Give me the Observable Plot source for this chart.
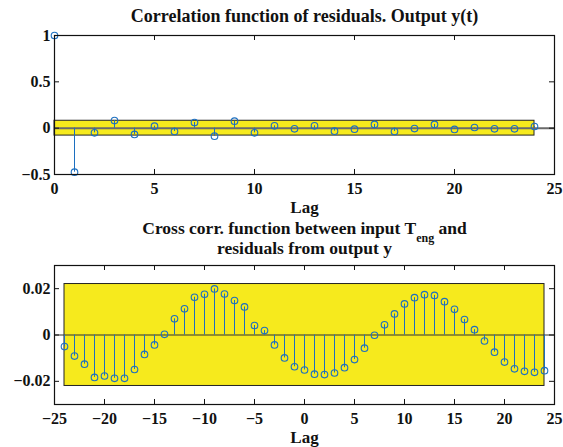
<!DOCTYPE html>
<html>
<head>
<meta charset="utf-8">
<script src="https://cdn.jsdelivr.net/npm/d3@7"></script>
<script src="https://cdn.jsdelivr.net/npm/@observablehq/plot@0.6"></script>
<style>
  html, body { margin: 0; padding: 0; background: #fff; }
  #chart { width: 563px; height: 447px; }
  #chart svg { display: block; }
</style>
</head>
<body>
<div id="chart"></div>
<script>
// Residual autocorrelation of output y(t), lags 0..24
const autoLags = [0, 1, 2, 3, 4, 5, 6, 7, 8, 9, 10, 11, 12, 13, 14, 15, 16, 17, 18, 19, 20, 21, 22, 23, 24];
const autoCorr = [1, -0.475, -0.05, 0.082, -0.068, 0.022, -0.036, 0.061, -0.086, 0.075, -0.05, 0.025, -0.007,
                  0.025, -0.032, -0.011, 0.04, -0.036, -0.004, 0.04, -0.014, 0.007, -0.007, -0.007, 0.018];
const autoBound = 0.08;              // confidence region half-width
const autoXTicks = [0, 5, 10, 15, 20, 25];
const autoYTicks = [-0.5, 0, 0.5, 1];

// Cross correlation between input T_eng and residuals, lags -24..24
const crossLags = [-24, -23, -22, -21, -20, -19, -18, -17, -16, -15, -14, -13, -12, -11, -10, -9, -8, -7, -6, -5, -4, -3, -2, -1,
                   0, 1, 2, 3, 4, 5, 6, 7, 8, 9, 10, 11, 12, 13, 14, 15, 16, 17, 18, 19, 20, 21, 22, 23, 24];
const crossCorr = [-0.0050, -0.0091, -0.0126, -0.0183, -0.0177, -0.0187, -0.0187, -0.0149, -0.0084, -0.0043, 0.0003, 0.0070,
                   0.0113, 0.0163, 0.0176, 0.0199, 0.0177, 0.0149, 0.0121, 0.0041, 0.0019, -0.0043, -0.0099, -0.0137,
                   -0.0151, -0.0169, -0.0171, -0.0164, -0.0141, -0.0106, -0.0057, -0.0001, 0.0044, 0.0091, 0.0134, 0.0161,
                   0.0174, 0.0171, 0.0144, 0.0111, 0.0067, 0.0023, -0.0026, -0.0074, -0.0117, -0.0146, -0.0157, -0.0161, -0.0154];
const crossBound = 0.022;
const crossXTicks = [-25, -20, -15, -10, -5, 0, 5, 10, 15, 20, 25];
const crossYTicks = [-0.02, 0, 0.02];

const autoTitle = "Correlation function of residuals. Output y(t)";
const crossTitle = ["Cross corr. function between input T", "eng", "and"];   // main text, subscript, tail
const crossTitle2 = "residuals from output y";
const xLabel = "Lag";

// ---- styling ----
const W = 563;
const marginLeft = 54, marginRight = 9;
const frameW = W - marginLeft - marginRight;
const tickLen = 5;
const blue = "#1c6fc0";
const yellow = "#f6ea1d";
const ink = "#111";
const serif = "'Liberation Serif', 'Times New Roman', serif";
const titleSize = 17.5, subSize = 12;
const fmt = d => String(d).replace("-", "\u2212");

function inwardTicks(xTicks, yTicks, frameH) {
  return [
    Plot.ruleX(xTicks, {x: d => d, insetTop: frameH - tickLen, stroke: ink, strokeWidth: 1}),
    Plot.ruleX(xTicks, {x: d => d, insetBottom: frameH - tickLen, stroke: ink, strokeWidth: 1}),
    Plot.ruleY(yTicks, {y: d => d, insetRight: frameW - tickLen, stroke: ink, strokeWidth: 1}),
    Plot.ruleY(yTicks, {y: d => d, insetLeft: frameW - tickLen, stroke: ink, strokeWidth: 1})
  ];
}

const baseStyle = {fontFamily: serif, fontSize: "16px", fontWeight: "bold", color: ink, background: "white", overflow: "visible"};

// ---- top panel: autocorrelation ----
const h1 = 217, mt1 = 35, mb1 = 43;
const autoData = autoLags.map((lag, i) => ({lag, r: autoCorr[i]}));
const plot1 = Plot.plot({
  width: W, height: h1, marginTop: mt1, marginBottom: mb1, marginLeft, marginRight,
  style: baseStyle,
  x: {domain: [0, 25]},
  y: {domain: [-0.5, 1]},
  marks: [
    Plot.rect([autoBound], {x1: () => autoLags[0], x2: () => autoLags[autoLags.length - 1], y1: d => -d, y2: d => d,
      fill: yellow, stroke: "#222", strokeWidth: 1}),
    Plot.ruleY([0], {stroke: "#6a6a6a", strokeWidth: 2}),
    Plot.ruleX(autoData, {x: "lag", y1: () => 0, y2: "r", stroke: blue, strokeWidth: 1}),
    Plot.dot(autoData, {x: "lag", y: "r", r: 3.3, stroke: blue, strokeWidth: 1.1, fill: "none"}),
    Plot.frame({stroke: ink, strokeWidth: 1.2}),
    ...inwardTicks(autoXTicks, autoYTicks, h1 - mt1 - mb1),
    Plot.axisX({ticks: autoXTicks, tickSize: 0, tickPadding: 8, tickFormat: fmt, label: null}),
    Plot.axisY({ticks: autoYTicks, tickSize: 0, tickPadding: 4, tickFormat: fmt, label: null}),
    Plot.text([autoTitle], {text: d => d, frameAnchor: "top", dy: -14, lineAnchor: "bottom", fontSize: 18}),
    Plot.text([xLabel], {text: d => d, frameAnchor: "bottom", dy: 38, lineAnchor: "bottom", fontSize: 17})
  ]
});

// ---- bottom panel: cross correlation ----
const h2 = 230, mt2 = 48, mb2 = 43;
const crossData = crossLags.map((lag, i) => ({lag, r: crossCorr[i]}));
const plot2 = Plot.plot({
  width: W, height: h2, marginTop: mt2, marginBottom: mb2, marginLeft, marginRight,
  style: baseStyle,
  x: {domain: [-25, 25]},
  y: {domain: [-0.03, 0.03]},
  marks: [
    Plot.rect([crossBound], {x1: () => crossLags[0], x2: () => crossLags[crossLags.length - 1], y1: d => -d, y2: d => d,
      fill: yellow, stroke: "#222", strokeWidth: 1}),
    Plot.ruleY([0], {stroke: "#333", strokeWidth: 1.2}),
    Plot.ruleX(crossData, {x: "lag", y1: () => 0, y2: "r", stroke: blue, strokeWidth: 1}),
    Plot.dot(crossData, {x: "lag", y: "r", r: 3.3, stroke: blue, strokeWidth: 1.1, fill: "none"}),
    Plot.frame({stroke: ink, strokeWidth: 1.2}),
    ...inwardTicks(crossXTicks, crossYTicks, h2 - mt2 - mb2),
    Plot.axisX({ticks: crossXTicks, tickSize: 0, tickPadding: 8, tickFormat: fmt, label: null}),
    Plot.axisY({ticks: crossYTicks, tickSize: 0, tickPadding: 4, tickFormat: fmt, label: null}),
    // first title line: three pieces, laid out side by side once measured
    Plot.text([crossTitle[0]], {text: d => d, frameAnchor: "top", dy: -32, lineAnchor: "bottom", textAnchor: "start", fontSize: titleSize}),
    Plot.text([crossTitle[1]], {text: d => d, frameAnchor: "top", dy: -24, lineAnchor: "bottom", textAnchor: "start", fontSize: subSize}),
    Plot.text([crossTitle[2]], {text: d => d, frameAnchor: "top", dy: -32, lineAnchor: "bottom", textAnchor: "start", fontSize: titleSize}),
    Plot.text([crossTitle2], {text: d => d, frameAnchor: "top", dy: -12, lineAnchor: "bottom", fontSize: titleSize}),
    Plot.text([xLabel], {text: d => d, frameAnchor: "bottom", dy: 38, lineAnchor: "bottom", fontSize: 17})
  ]
});

const chart = document.getElementById("chart");
chart.append(plot1, plot2);

// center the first title line (T with subscript "eng", then "and") over the frame
const findText = s => d3.select(plot2).selectAll("text").filter(function () { return this.textContent === s; }).node();
const pieces = crossTitle.map(findText);
const widths = pieces.map(n => n.getComputedTextLength());
const gap = titleSize * 0.25;
const total = widths[0] + widths[1] + gap + widths[2];
let cursor = -total / 2;
pieces[0].setAttribute("dx", cursor);
cursor += widths[0];
pieces[1].setAttribute("dx", cursor);
cursor += widths[1] + gap;
pieces[2].setAttribute("dx", cursor);
</script>
</body>
</html>
